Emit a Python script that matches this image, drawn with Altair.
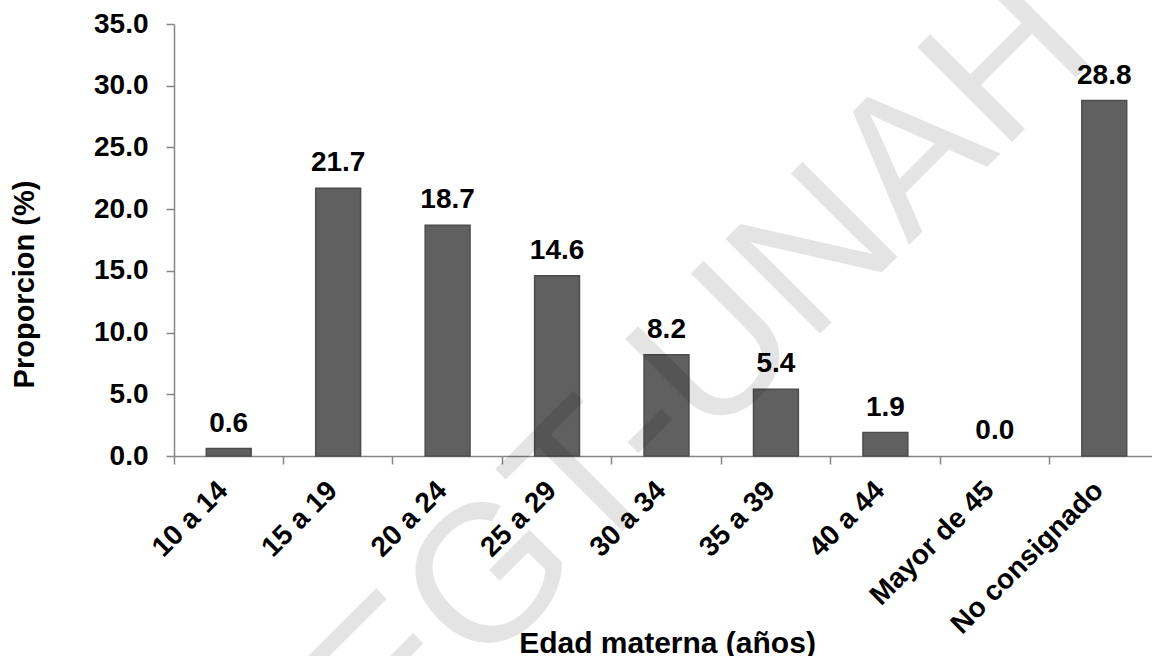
import altair as alt
import pandas as pd

# Proportion of births by maternal age group
categories = ["10 a 14", "15 a 19", "20 a 24", "25 a 29", "30 a 34",
              "35 a 39", "40 a 44", "Mayor de 45", "No consignado"]
values = [0.6, 21.7, 18.7, 14.6, 8.2, 5.4, 1.9, 0.0, 28.8]
y_ticks = [0, 5, 10, 15, 20, 25, 30, 35]
watermark = ["EGT-UNAH"]

df = pd.DataFrame({"edad": categories, "prop": values})
wm = pd.DataFrame({"texto": watermark})

FONT = "Liberation Sans"
AXIS_GRAY = "#868686"

x_enc = alt.X(
    "edad:N",
    sort=categories,
    scale=alt.Scale(paddingInner=0, paddingOuter=0, range=[0, 985]),
    axis=alt.Axis(
        title="Edad materna (años)",
        titleFont=FONT, titleFontSize=30, titleFontWeight="bold", titleColor="black",
        titleX=493, titleY=196, titleBaseline="alphabetic", titleAnchor="start",
        titleAlign="center",
        labelFont=FONT, labelFontSize=28, labelFontWeight="bold", labelColor="black",
        labelAngle=315, labelAlign="right", labelBaseline="middle",
        labelPadding=22, labelOffset=-5, labelLimit=0, labelOverlap=False,
        bandPosition=0, tickSize=8, tickWidth=1.5, tickColor=AXIS_GRAY,
        domainColor=AXIS_GRAY, domainWidth=1.5, grid=False,
    ),
)

y_enc = alt.Y(
    "prop:Q",
    scale=alt.Scale(domain=[0, 35], nice=False, zero=True),
    axis=alt.Axis(
        title="Proporcion (%)",
        titleFont=FONT, titleFontSize=29, titleFontWeight="bold", titleColor="black",
        titleAngle=270, titleX=-141, titleY=260, titleBaseline="alphabetic",
        titleAlign="center", titleAnchor="start",
        labelFont=FONT, labelFontSize=28, labelFontWeight="bold", labelColor="black",
        labelPadding=18, values=y_ticks, format=".1f",
        tickSize=8, tickWidth=1.5, tickColor=AXIS_GRAY,
        domainColor=AXIS_GRAY, domainWidth=1.5, grid=False,
    ),
)

bars = alt.Chart(df).mark_bar(
    width=alt.RelativeBandSize(0.41),
    color="#606060", stroke="#4d4d4d", strokeWidth=1.5,
).encode(
    x=x_enc, y=y_enc,
    strokeOpacity=alt.condition(alt.datum.prop > 0, alt.value(1), alt.value(0)),
)

labels = alt.Chart(df).mark_text(
    font=FONT, fontSize=28, fontWeight="bold", color="black",
    baseline="alphabetic", align="center", dy=-17,
).encode(
    x=alt.X("edad:N", sort=categories),
    y="prop:Q",
    text=alt.Text("prop:Q", format=".1f"),
)

mark_wm = alt.Chart(wm).mark_text(
    font=FONT, fontSize=195, fontWeight="normal", color="black",
    opacity=0.1, angle=315, align="center", baseline="alphabetic",
).encode(
    x=alt.value(570), y=alt.value(386), text="texto:N",
)

chart = alt.layer(bars, labels, mark_wm).properties(
    width=978, height=432,
    padding={"left": 174, "top": 24, "right": 0, "bottom": 200},
    autosize=alt.AutoSizeParams(type="none"),
    background="white",
).configure_view(stroke=None)

chart.save("out.html", embed_options={"renderer": "svg", "actions": False})
